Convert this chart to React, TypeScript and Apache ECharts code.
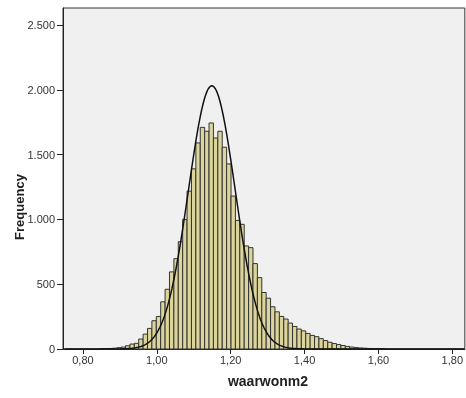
import React, { useEffect, useRef } from "react";
import * as echarts from "echarts";

// Histogram bins (value units)
const binStart = 0.8439;
const binWidth = 0.0119;
const counts = [
  1, 2, 4, 6, 10, 15, 25, 38, 44, 77, 115, 159, 218, 251, 364, 461, 595, 697, 828, 1000, 1218, 1390, 1590, 1710, 1680,
  1744, 1628, 1680, 1557, 1428, 1180, 992, 962, 795, 782, 659, 551, 436, 392, 326, 287, 251, 231, 200, 174,
  154, 140, 120, 105, 95, 80, 65, 52, 42, 34, 27, 20, 15, 11, 8, 6, 4, 3, 2, 1,
];

// Fitted normal curve parameters (SPSS overlay)
const curveMean = 1.149;
const curveSd = 0.063;
const curveN = 26950;

const xTicks = [0.8, 1.0, 1.2, 1.4, 1.6, 1.8];
const yTicks = [0, 500, 1000, 1500, 2000, 2500];

const fmtX = (v: number) => v.toFixed(2).replace(".", ",");
const fmtY = (v: number) => (v >= 1000 ? `${Math.floor(v / 1000)}.${String(v % 1000).padStart(3, "0")}` : String(v));

export default function App() {
  const ref = useRef<HTMLDivElement>(null);
  useEffect(() => {
    if (!ref.current) return;
    const chart = echarts.init(ref.current, undefined, { renderer: "svg" });

    const bars = counts.map((c, i) => [binStart + i * binWidth, binStart + (i + 1) * binWidth, c]);
    const curve: number[][] = [];
    for (let x = 0.75; x <= 1.834; x += 0.003) {
      const z = (x - curveMean) / curveSd;
      const y = (curveN * binWidth) / (curveSd * Math.sqrt(2 * Math.PI)) * Math.exp(-0.5 * z * z);
      curve.push([x, y]);
    }

    const font = "'Liberation Sans', Arial, sans-serif";
    chart.setOption({
      animation: false,
      grid: {
        left: 63,
        top: 8,
        right: 0,
        bottom: 49,
        show: true,
        backgroundColor: "#f0f0f0",
        borderColor: "#333",
        borderWidth: 1,
      },
      xAxis: {
        type: "value",
        min: 0.746,
        max: 1.834,
        axisLine: { show: true, onZero: false, lineStyle: { color: "#222", width: 1 } },
        axisTick: { show: true, length: 5, customValues: xTicks, lineStyle: { color: "#222" } },
        axisLabel: {
          customValues: xTicks,
          formatter: (v: number) => fmtX(v),
          fontFamily: font,
          fontSize: 11,
          color: "#333",
          margin: 5,
        },
        splitLine: { show: false },
      },
      yAxis: {
        type: "value",
        min: 0,
        max: 2631,
        axisLine: { show: true, lineStyle: { color: "#222", width: 1 } },
        axisTick: { show: true, length: 6, customValues: yTicks, lineStyle: { color: "#222" } },
        axisLabel: {
          customValues: yTicks,
          formatter: (v: number) => fmtY(v),
          fontFamily: font,
          fontSize: 11,
          color: "#333",
          margin: 8,
        },
        splitLine: { show: false },
      },
      graphic: [
        {
          type: "text",
          x: 19,
          y: 207,
          rotation: Math.PI / 2,
          style: {
            text: "Frequency",
            font: `bold 13px ${font}`,
            fill: "#222",
            textAlign: "center",
            textVerticalAlign: "middle",
          },
        },
        {
          type: "text",
          x: 268,
          y: 381,
          style: {
            text: "waarwonm2",
            font: `bold 14px ${font}`,
            fill: "#222",
            textAlign: "center",
            textVerticalAlign: "middle",
          },
        },
      ],
      series: [
        {
          type: "custom",
          data: bars,
          encode: { x: [0, 1], y: 2 },
          renderItem: (params: any, api: any) => {
            const p0 = api.coord([api.value(0), 0]);
            const p1 = api.coord([api.value(1), api.value(2)]);
            return {
              type: "rect",
              shape: { x: p0[0], y: p1[1], width: p1[0] - p0[0], height: p0[1] - p1[1] },
              style: { fill: "#dcd59b", stroke: "#333", lineWidth: 1 },
            };
          },
          z: 2,
        },
        {
          type: "line",
          data: curve,
          showSymbol: false,
          smooth: false,
          lineStyle: { color: "#111", width: 1.5 },
          z: 3,
        },
      ],
    });
    return () => chart.dispose();
  }, []);
  return <div ref={ref} style={{ position: "fixed", left: 0, top: 0, width: 466, height: 398 }} />;
}
